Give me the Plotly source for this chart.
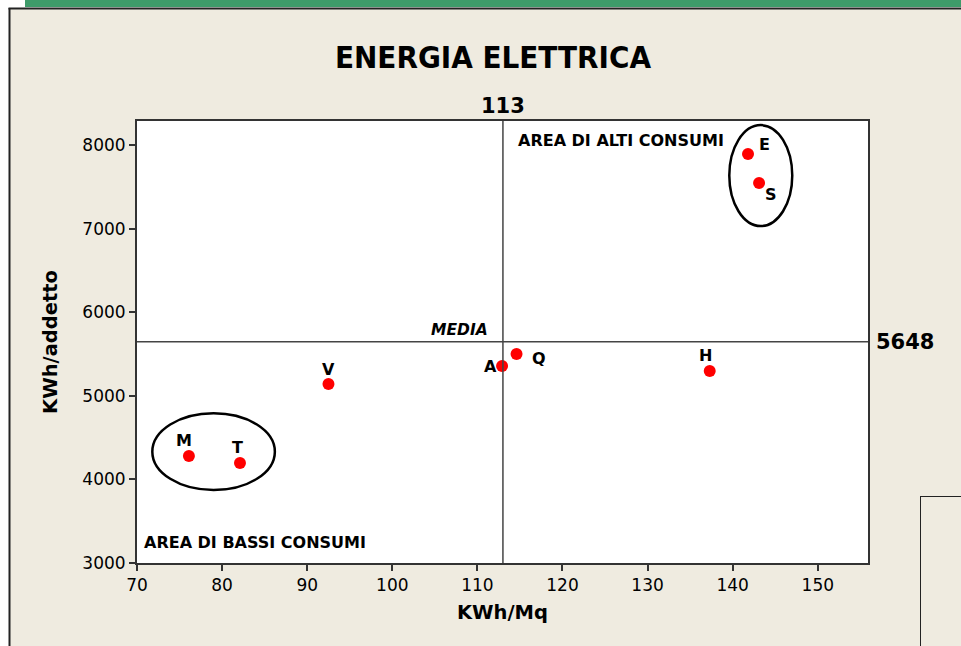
import plotly.graph_objects as go

# ---- data ----
labels = ["E", "S", "Q", "A", "H", "V", "M", "T"]
kwh_mq = [141.8, 143.1, 114.6, 112.9, 137.3, 92.5, 76.1, 82.1]
kwh_addetto = [7892, 7545, 5500, 5356, 5297, 5141, 4280, 4196]
mean_x = 113
mean_y = 5648
x_ticks = [70, 80, 90, 100, 110, 120, 130, 140, 150]
y_ticks = [3000, 4000, 5000, 6000, 7000, 8000]
# label offsets (px) relative to point
label_dx = [16, 12, 22, -12, -4, 0, -5, -2]
label_dy = [10, -11, -4, 0, 16, 15, 16, 16]

BG = "#EFEBE0"
FONT = "DejaVu Sans"

fig = go.Figure()
fig.add_trace(go.Scatter(
    x=kwh_mq, y=kwh_addetto, mode="markers",
    marker=dict(color="#FF0000", size=12, line=dict(width=0)),
    hoverinfo="text", text=labels, showlegend=False,
))

for lab, x, y, dx, dy in zip(labels, kwh_mq, kwh_addetto, label_dx, label_dy):
    fig.add_annotation(x=x, y=y, text=f"<b>{lab}</b>", showarrow=False,
                       xshift=dx, yshift=dy,
                       font=dict(family=FONT, size=16, color="black"))

# mean lines
fig.add_shape(type="line", xref="x", yref="paper", x0=mean_x, x1=mean_x, y0=0, y1=1,
              line=dict(color="#444444", width=1.5))
fig.add_shape(type="line", xref="paper", yref="y", x0=0, x1=1, y0=mean_y, y1=mean_y,
              line=dict(color="#444444", width=1.5))

# ellipses
fig.add_shape(type="circle", xref="x", yref="y", x0=139.6, x1=147.0, y0=7031, y1=8239,
              line=dict(color="black", width=2.5))
fig.add_shape(type="circle", xref="x", yref="y", x0=71.8, x1=86.2, y0=3873, y1=4791,
              line=dict(color="black", width=2.5))

# text annotations
fig.add_annotation(x=mean_x, y=1, xref="x", yref="paper", text="<b>113</b>",
                   showarrow=False, yanchor="bottom", yshift=1,
                   font=dict(family=FONT, size=21, color="black"))
fig.add_annotation(x=1, y=mean_y, xref="paper", yref="y", text="<b>5648</b>",
                   showarrow=False, xanchor="left", xshift=6,
                   font=dict(family=FONT, size=21, color="black"))
fig.add_annotation(x=mean_x, y=mean_y, xref="x", yref="y", text="<b><i>MEDIA</i></b>",
                   showarrow=False, xanchor="right", yanchor="bottom", xshift=-13, yshift=1,
                   font=dict(family=FONT, size=15.5, color="black"))
fig.add_annotation(x=mean_x, y=1, xref="x", yref="paper", text="<b>AREA DI ALTI CONSUMI</b>",
                   showarrow=False, xanchor="left", yanchor="top", xshift=13, yshift=-8,
                   font=dict(family=FONT, size=16, color="black"))
fig.add_annotation(x=0, y=0, xref="paper", yref="paper", text="<b>AREA DI BASSI CONSUMI</b>",
                   showarrow=False, xanchor="left", yanchor="bottom", xshift=5, yshift=9,
                   font=dict(family=FONT, size=16, color="black"))

# frame decorations (paper coords derived from pixels)
L, R, T, B = 137, 868, 121, 563
def px(x):
    return (x - L) / (R - L)
def py(y):
    return (B - y) / (B - T)

# white outer strips
fig.add_shape(type="rect", xref="paper", yref="paper", x0=px(0), x1=px(9), y0=py(0), y1=py(646),
              line=dict(width=0), fillcolor="white", layer="above")
fig.add_shape(type="rect", xref="paper", yref="paper", x0=px(0), x1=px(961), y0=py(0), y1=py(8),
              line=dict(width=0), fillcolor="white", layer="above")
fig.add_shape(type="rect", xref="paper", yref="paper", x0=px(25), x1=px(961), y0=py(0), y1=py(7),
              line=dict(width=0), fillcolor="#3E9B6A", layer="above")
fig.add_shape(type="line", xref="paper", yref="paper", x0=px(8.5), x1=px(961), y0=py(8.5), y1=py(8.5),
              line=dict(color="#222222", width=2), layer="above")
fig.add_shape(type="line", xref="paper", yref="paper", x0=px(9.5), x1=px(9.5), y0=py(8), y1=py(646),
              line=dict(color="#222222", width=2), layer="above")
fig.add_shape(type="line", xref="paper", yref="paper", x0=px(920.5), x1=px(920.5), y0=py(496), y1=py(646),
              line=dict(color="#222222", width=1))
fig.add_shape(type="line", xref="paper", yref="paper", x0=px(920), x1=px(961), y0=py(496.5), y1=py(496.5),
              line=dict(color="#222222", width=1))

fig.update_layout(
    width=961, height=646,
    paper_bgcolor=BG, plot_bgcolor="white",
    margin=dict(l=L, r=961 - R, t=T, b=646 - B),
    title=dict(text="<b>ENERGIA ELETTRICA</b>", x=0.513, xanchor="center", y=0.912, yanchor="middle",
               font=dict(family="DejaVu Sans Condensed, DejaVu Sans", size=31, color="black")),
    font=dict(family=FONT, color="black"),
)
fig.update_xaxes(
    range=[70, 155.9], tickvals=x_ticks, ticks="outside", ticklen=6, tickwidth=1.5,
    tickcolor="#333333", showgrid=False, zeroline=False,
    showline=True, linecolor="#333333", linewidth=2, mirror=True,
    tickfont=dict(family=FONT, size=17, color="black"),
    title=dict(text="<b>KWh/Mq</b>", font=dict(family=FONT, size=19.5, color="black"), standoff=11),
)
fig.update_yaxes(
    range=[3000, 8288], tickvals=y_ticks, ticks="outside", ticklen=6, tickwidth=1.5,
    tickcolor="#333333", showgrid=False, zeroline=False,
    showline=True, linecolor="#333333", linewidth=2, mirror=True,
    tickfont=dict(family=FONT, size=17, color="black"),
    title=dict(text="<b>KWh/addetto</b>", font=dict(family=FONT, size=19.5, color="black"), standoff=20),
)

fig.write_html("out.html", config={"displayModeBar": False},
               post_script="document.body.style.margin='0';")
